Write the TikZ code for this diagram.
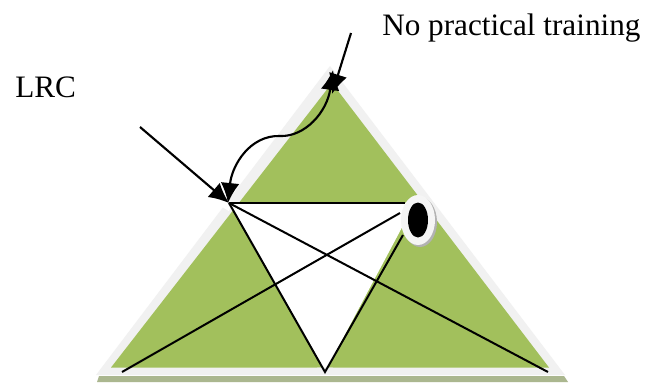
\documentclass[tikz,border=0pt]{standalone}
\usepackage{fontspec}
\setmainfont{Liberation Serif}
\usetikzlibrary{arrows.meta}
\definecolor{tgreen}{HTML}{A2C05C}
\definecolor{tedge}{HTML}{F1F1F1}
\definecolor{tshade}{HTML}{ABB78F}
\tikzset{
  px/.style={x=0.75pt,y=-0.75pt},
  lbl/.style={font=\fontsize{23.4}{26}\selectfont,inner sep=0pt,anchor=base west},
  rule/.style={draw=black,line width=1.5pt},
  bighead/.style={length=19pt,width=15pt},
  arr/.style={draw=black,line width=1.6pt,-{Latex[length=15pt,width=14pt]}},
  darr/.style={draw=black,line width=1.6pt,{Latex[length=15pt,width=14pt]}-{Latex[length=15pt,width=14pt]}}
}
\begin{document}
\begin{tikzpicture}[px]
\useasboundingbox (0,0) rectangle (649,383);
\fill[white] (0,0) rectangle (649,383);
% base shadow
\fill[tshade] (99,376) -- (564,376) -- (568,382) -- (97,382) -- cycle;
% outer light border
\fill[tedge] (330,66) -- (565,375) -- (96,375) -- cycle;
% green triangle
\fill[tgreen] (332,83) -- (549,367.5) -- (111,367.5) -- cycle;
% named corners
\coordinate (A) at (229,203);
\coordinate (B) at (415,203);
\coordinate (C) at (325,372);
\coordinate (L) at (122,372);
\coordinate (R) at (548,372);
\coordinate (T) at (332,94);
\coordinate (U) at (333,70);
\coordinate (N) at (351,33);
\coordinate (W) at (140,127);
% white inner triangle with notches
\fill[white] (A) -- (B) -- (C) -- cycle;
\fill[tedge] (C) ++(-8,-4.5) -- ++(16,0) -- (C) -- cycle;
\fill[white] (225,197) -- (232,203) -- (229,211) -- (222,207) -- cycle;
% eye
\fill[gray!60] (420,222) ellipse (17 and 25);
\fill[white!96!black] (418,220) ellipse (17 and 25);
\fill[black] (418,220) ellipse (10 and 17.5);
% lines
\draw[rule] (A) -- (405,203);
\draw[rule] (A) -- (C) -- (403,235);
\draw[rule] (A) -- (R);
\draw[rule] (L) -- (400,213);
% arrows
\draw[arr] (N) -- (T);
\draw[arr] (W) -- (A);
\draw[darr] (U) .. controls (327,112) and (305,137) .. (280,136)
  .. controls (250,135) and (232,165) .. (228,203);
% text
\node[lbl] (t1) at (382,35) {No practical training};
\node[lbl] (t2) at (15,97) {LRC};
\end{tikzpicture}
\end{document}
